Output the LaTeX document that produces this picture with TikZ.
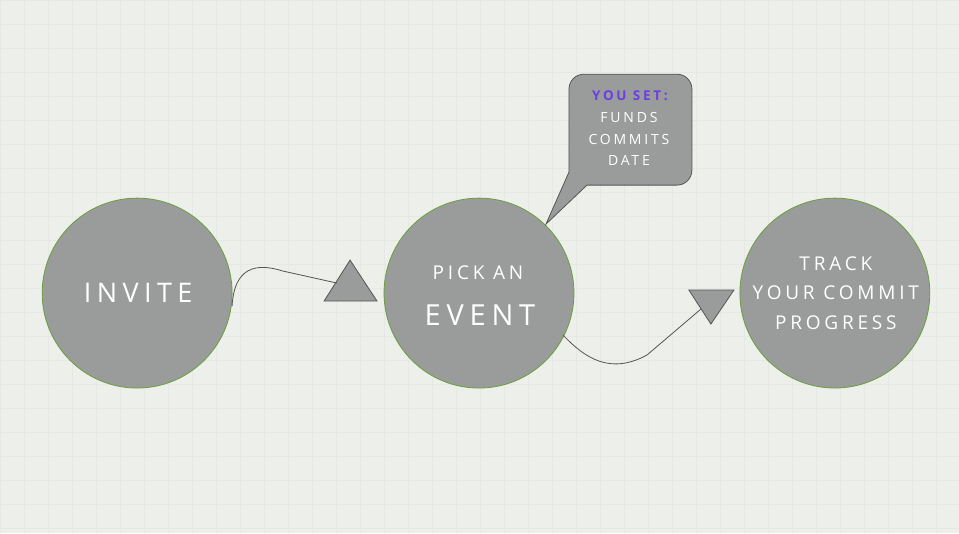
\documentclass[tikz,border=0pt]{standalone}
\usepackage{fontspec}
\setmainfont{Open Sans}[LetterSpace=20]
\definecolor{bg}{HTML}{EDEFEA}
\definecolor{gridc}{HTML}{E6E9E3}
\definecolor{disk}{HTML}{9A9C9C}
\definecolor{rim}{HTML}{6B9E3C}
\definecolor{edge}{HTML}{555555}
\definecolor{purp}{HTML}{6A3FE6}
\begin{document}
\begin{tikzpicture}[x=1pt,y=-1pt,
  stepdisk/.style={circle,fill=disk,draw=rim,line width=0.8pt,minimum size=190pt,inner sep=0pt,
    text=white,align=center},
  marker/.style={fill=disk,draw=edge,line width=0.8pt,line join=miter},
  link/.style={draw=edge,line width=0.8pt},
  bubble/.style={fill=disk,draw=edge,line width=0.8pt},
  txt/.style={text=white,inner sep=0pt}]
\fill[bg] (0,0) rectangle (959,533);
\foreach \i in {0,24,...,959} \draw[gridc,line width=0.4pt] (\i,0) -- (\i,533);
\foreach \j in {0,24,...,533} \draw[gridc,line width=0.4pt] (0,\j) -- (959,\j);
\useasboundingbox (0,0) rectangle (959,533);

\node[stepdisk] (invite) at (137,293) {};
\node[stepdisk] (event) at (479,293) {};
\node[stepdisk] (track) at (835,293) {};

\node[txt,font=\fontsize{27}{30}\selectfont] (tinvite) at (138,293) {INVITE};
\node[txt,font=\fontsize{19}{22}\selectfont] (tpick) at (478,273) {PICK AN};
\node[txt,font=\fontsize{29}{32}\selectfont] (tevent) at (480,315) {EVENT};
\node[txt,font=\fontsize{19}{22}\selectfont] (ttrack) at (836,264) {TRACK};
\node[txt,font=\fontsize{19}{22}\selectfont] (tyour) at (836,293) {YOUR COMMIT};
\node[txt,font=\fontsize{19}{22}\selectfont] (tprog) at (836,323) {PROGRESS};

% triangles
\coordinate (ta) at (324,301); \coordinate (tb) at (377,301); \coordinate (tc) at (350,260);
\draw[marker] (ta) -- (tb) -- (tc) -- cycle;
\coordinate (da) at (689,290); \coordinate (db) at (734,290); \coordinate (dc) at (711,324);
\draw[marker] (da) -- (db) -- (dc) -- cycle;

% connectors
\coordinate (s1) at (232,306);
\coordinate (e1) at (337,283);
\draw[link] (s1) .. controls (234,268) and (255,262) .. (283,271) -- (e1);
\coordinate (s2) at (563,335);
\coordinate (e2) at (701,309);
\draw[link] (s2) .. controls (585,358) and (610,375) .. (647,355) -- (e2);

% callout
\coordinate (tip) at (546,224);
\draw[bubble] (tip) -- (569,172) [rounded corners=15pt] -- (569,74) -- (692,74) -- (692,185) [sharp corners] -- (587,185) -- cycle;
\node[inner sep=0pt,text=purp,font=\bfseries\fontsize{13.5}{15}\selectfont] (tyou) at (630,96) {YOU SET:};
\node[txt,font=\fontsize{14}{16}\selectfont] (tfunds) at (629,117) {FUNDS};
\node[txt,font=\fontsize{14}{16}\selectfont] (tcommits) at (629,139) {COMMITS};
\node[txt,font=\fontsize{14}{16}\selectfont] (tdate) at (629,160) {DATE};
\end{tikzpicture}
\end{document}
